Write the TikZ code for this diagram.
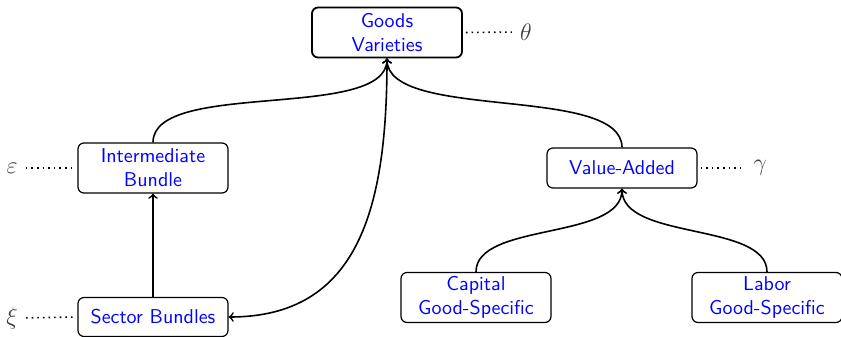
\documentclass[tikz,border=0pt]{standalone}
\begin{document}
\begin{tikzpicture}[x=0.5pt,y=-0.5pt,
  box/.style={draw, rounded corners=3pt, line width=0.6pt, minimum width=75pt, align=center, text=blue, font=\sffamily, inner sep=2pt},
  two/.style={minimum height=25pt},
  one/.style={minimum height=19.5pt},
  greek/.style={text=black!75, inner sep=1pt, font=\large},
  link/.style={line width=0.8pt, ->},
  dots/.style={line width=0.8pt, dotted}]
\useasboundingbox (0,0) rectangle (841,337);
\node[box, two, line width=0.9pt] (goods) at (387,32.5) {Goods\\Varieties};
\node[box, two] (inter) at (153,168) {Intermediate\\Bundle};
\node[box, one] (sector) at (153,317) {Sector Bundles};
\node[box, one, minimum height=20pt] (va) at (622,168) {Value-Added};
\node[box, two] (cap) at (476,297.5) {Capital\\Good-Specific};
\node[box, two] (lab) at (767,297.5) {Labor\\Good-Specific};
\node[greek] (theta) at (526,32) {$\theta$};
\node[greek] (eps) at (12,168) {$\varepsilon$};
\node[greek] (xi) at (12,318) {$\xi$};
\node[greek] (gam) at (760,168) {$\gamma$};
\draw[dots, shorten <=1.5pt, shorten >=3pt] (goods.east) -- (theta.west);
\draw[dots, shorten <=1.5pt, shorten >=3pt] (va.east) -- (gam.west);
\draw[dots, shorten <=3pt, shorten >=1.5pt] (eps.east) -- (inter.west);
\draw[dots, shorten <=3pt, shorten >=1.5pt] (xi.east) -- (sector.west);
\draw[link] (inter.north) .. controls +(0,-63) and +(0,63) .. (goods.south);
\draw[link] (va.north) .. controls +(0,-63) and +(0,63) .. (goods.south);
\draw[link, <->] (sector.east) .. controls +(130,0) and +(0,150) .. (goods.south);
\draw[link] (sector.north) -- (inter.south);
\draw[link] (cap.north) .. controls +(0,-50) and +(0,52) .. (va.south);
\draw[link] (lab.north) .. controls +(0,-50) and +(0,52) .. (va.south);
\end{tikzpicture}
\end{document}
